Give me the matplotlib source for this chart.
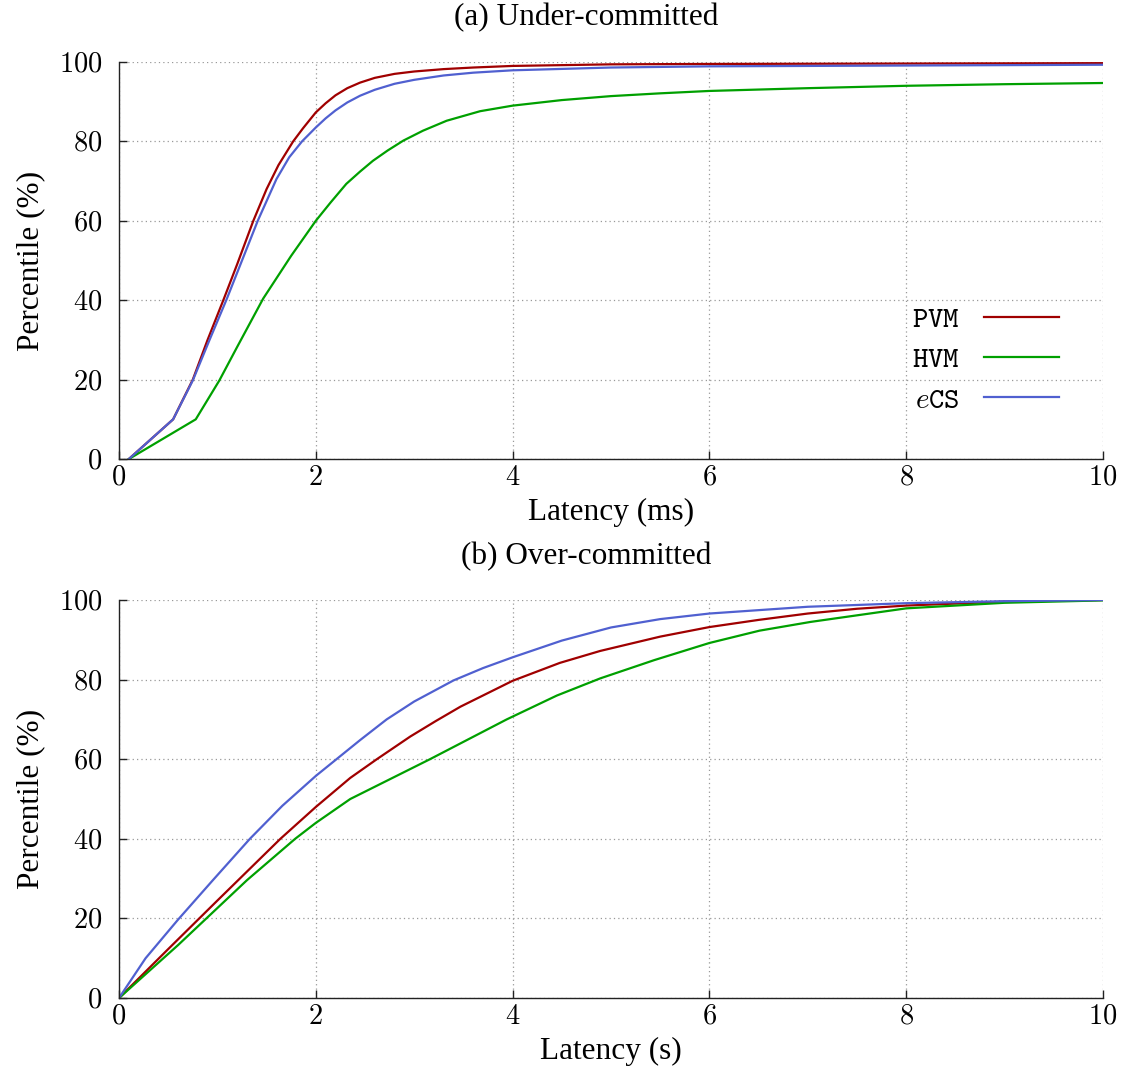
import matplotlib
matplotlib.use("Agg")
import matplotlib.pyplot as plt

plt.rcParams['font.family'] = ['Liberation Serif', 'DejaVu Serif']
plt.rcParams['mathtext.fontset'] = 'cm'

# ---- data: (a) Under-committed, latency in ms ----
a_pvm_x = [0.1, 0.55, 0.75, 0.9, 1.06, 1.2, 1.365, 1.5, 1.62, 1.77, 1.87, 2.0, 2.1, 2.2, 2.32, 2.45, 2.6, 2.8, 3.0, 3.3, 3.6, 4.0, 5.0, 6.0, 8.0, 10.0]
a_pvm_y = [0, 10, 20, 30, 40, 49, 60, 68, 74, 80, 83.3, 87.3, 89.6, 91.6, 93.4, 94.8, 96.0, 97.0, 97.6, 98.2, 98.6, 99.0, 99.4, 99.5, 99.6, 99.7]
a_ecs_x = [0.1, 0.55, 0.75, 0.92, 1.09, 1.25, 1.41, 1.6, 1.73, 1.86, 2.0, 2.1, 2.2, 2.32, 2.45, 2.6, 2.8, 3.0, 3.3, 3.6, 4.0, 5.0, 6.0, 8.0, 10.0]
a_ecs_y = [0, 10, 19.8, 30, 40, 50, 60, 70.5, 76, 80, 83.5, 85.8, 87.8, 89.8, 91.5, 93.0, 94.5, 95.5, 96.6, 97.3, 97.9, 98.6, 98.9, 99.1, 99.3]
a_hvm_x = [0.1, 0.78, 1.02, 1.2, 1.465, 1.75, 2.0, 2.15, 2.31, 2.45, 2.58, 2.73, 2.89, 3.09, 3.33, 3.67, 4.0, 4.5, 5.0, 5.5, 6.0, 7.0, 8.0, 9.0, 10.0]
a_hvm_y = [0, 10, 19.8, 28.2, 40.4, 51.2, 60, 64.6, 69.3, 72.4, 75.1, 77.7, 80.2, 82.7, 85.2, 87.6, 89.0, 90.4, 91.4, 92.1, 92.7, 93.4, 94.0, 94.4, 94.7]

# ---- data: (b) Over-committed, latency in s ----
b_pvm_x = [0, 0.5, 1.0, 1.64, 2.0, 2.35, 2.62, 2.96, 3.22, 3.47, 4.0, 4.48, 4.89, 5.5, 6.0, 6.5, 7.0, 7.5, 8.0, 9.0, 10.0]
b_pvm_y = [0, 12.3, 24.5, 40, 48, 55.3, 60, 65.7, 69.6, 73.2, 79.7, 84.2, 87.2, 90.8, 93.2, 95.0, 96.6, 97.8, 98.6, 99.6, 100]
b_hvm_x = [0, 0.6, 1.3, 1.79, 2.0, 2.35, 3.16, 3.94, 4.45, 4.89, 5.44, 6.0, 6.51, 7.03, 8.0, 9.0, 10.0]
b_hvm_y = [0, 13.3, 29.6, 40, 44, 50, 60, 70, 76, 80.3, 84.9, 89.2, 92.3, 94.5, 97.9, 99.3, 99.9]
b_ecs_x = [0, 0.27, 0.6, 0.95, 1.33, 1.66, 2.0, 2.21, 2.45, 2.72, 3.0, 3.4, 3.7, 4.0, 4.5, 5.0, 5.5, 6.0, 7.0, 8.0, 9.0, 10.0]
b_ecs_y = [0, 10, 19.7, 29.5, 40, 48.3, 55.8, 60, 64.8, 70, 74.5, 79.8, 82.9, 85.6, 89.8, 93.1, 95.2, 96.6, 98.3, 99.2, 99.7, 100]

x_ticks = [0, 2, 4, 6, 8, 10]
x_tick_labels = ["0", "2", "4", "6", "8", "10"]
y_ticks = [0, 20, 40, 60, 80, 100]
y_tick_labels = ["0", "20", "40", "60", "80", "100"]

labels = [r"$\mathtt{PVM}$", r"$\mathtt{HVM}$", r"$e\mathtt{CS}$"]
colors = {"pvm": "#a00000", "hvm": "#00a000", "ecs": "#5060d0"}

FS = 22.5

fig = plt.figure(figsize=(11.27, 10.72), dpi=100)
ax1 = fig.add_axes([0.1056, 0.5718, 0.8731, 0.3704])
ax2 = fig.add_axes([0.1056, 0.0690, 0.8731, 0.3713])


def style(ax, xlabel):
    ax.set_xlim(0, 10)
    ax.set_ylim(0, 100)
    ax.set_xticks(x_ticks, labels=[f"${t}$" for t in x_tick_labels])
    ax.set_yticks(y_ticks, labels=[f"${t}$" for t in y_tick_labels])
    ax.tick_params(direction='in', length=6, width=1.0, labelsize=20.5,
                   colors='#222222', labelcolor='black')
    ax.tick_params(axis='y', pad=12)
    ax.tick_params(axis='x', pad=5)
    for s in ['top', 'right']:
        ax.spines[s].set_visible(False)
    for s in ['left', 'bottom']:
        ax.spines[s].set_color('#222222')
        ax.spines[s].set_linewidth(1.0)
    ax.grid(True, linestyle=(0, (1, 2.5)), color='#999999', linewidth=0.9)
    ax.set_axisbelow(True)
    ax.set_xlabel(xlabel, fontsize=FS)
    ax.xaxis.set_label_coords(0.5, -53 / 397)
    ax.xaxis.label.set_va('center')
    ax.set_ylabel("Percentile (%)", fontsize=FS, labelpad=10)


lw = 1.6
l1, = ax1.plot(a_pvm_x, a_pvm_y, color=colors["pvm"], lw=lw, label=labels[0])
l2, = ax1.plot(a_hvm_x, a_hvm_y, color=colors["hvm"], lw=lw, label=labels[1])
l3, = ax1.plot(a_ecs_x, a_ecs_y, color=colors["ecs"], lw=lw, label=labels[2])
style(ax1, "Latency (ms)")
ax1.legend(handles=[l1, l2, l3], loc='lower right', bbox_to_anchor=(0.967, 0.085),
           frameon=False, markerfirst=False, fontsize=21, handlelength=2.55,
           handletextpad=0.85, labelspacing=0.48, borderaxespad=0)

ax2.plot(b_pvm_x, b_pvm_y, color=colors["pvm"], lw=lw)
ax2.plot(b_hvm_x, b_hvm_y, color=colors["hvm"], lw=lw)
ax2.plot(b_ecs_x, b_ecs_y, color=colors["ecs"], lw=lw)
style(ax2, "Latency (s)")

fig.text(0.52, 1 - 18 / 1072, "(a) Under-committed", fontsize=FS, ha='center', va='center')
fig.text(0.52, 1 - 557 / 1072, "(b) Over-committed", fontsize=FS, ha='center', va='center')

fig.savefig("out.png", dpi=100)
